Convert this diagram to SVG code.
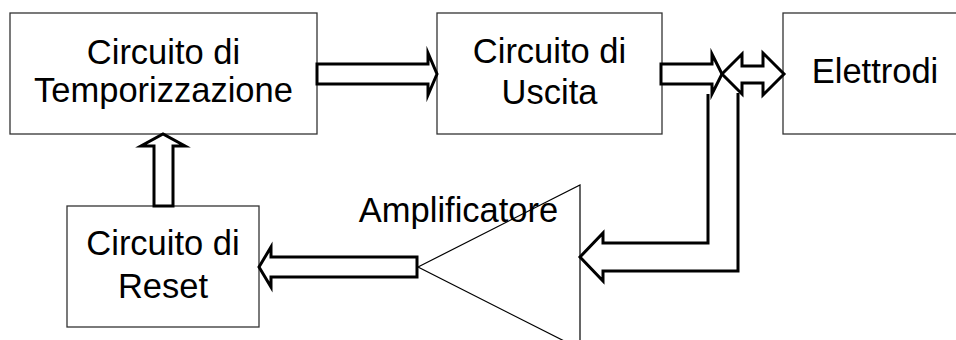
<svg xmlns="http://www.w3.org/2000/svg" width="956" height="340" viewBox="0 0 956 340">
  <style>
    .box { fill: #ffffff; stroke: #333333; stroke-width: 1.3; }
    .lbl { font-family: "Liberation Sans", Arial, sans-serif; font-size: 34.5px; fill: #000000; text-anchor: middle; }
    .arrow { fill: #ffffff; stroke: #000000; stroke-width: 3; stroke-linejoin: miter; stroke-miterlimit: 10; }
    .wire { fill: none; stroke: #000000; stroke-width: 3; stroke-linejoin: miter; stroke-miterlimit: 10; }
    .amp { fill: none; stroke: #000000; stroke-width: 1.2; }
  </style>
  <rect width="956" height="340" fill="#ffffff"/>

  <g id="timing">
    <rect class="box" x="10" y="13" width="307" height="121"/>
    <text class="lbl" x="163.5" y="64">Circuito di</text>
    <text class="lbl" x="163.5" y="102">Temporizzazione</text>
  </g>

  <g id="output">
    <rect class="box" x="437" y="13" width="225" height="121"/>
    <text class="lbl" x="549.5" y="63">Circuito di</text>
    <text class="lbl" x="549.5" y="104">Uscita</text>
  </g>

  <g id="electrodes">
    <rect class="box" x="783" y="13" width="190" height="121"/>
    <text class="lbl" x="875" y="83">Elettrodi</text>
  </g>

  <g id="reset">
    <rect class="box" x="67" y="206" width="192" height="121"/>
    <text class="lbl" x="163" y="255">Circuito di</text>
    <text class="lbl" x="163" y="298">Reset</text>
  </g>

  <g id="amplifier">
    <text class="lbl" x="458.5" y="222">Amplificatore</text>
    <polygon class="amp" points="418,267 580,185 580,349"/>
  </g>

  <g id="connectors">
    <!-- timing -> output -->
    <polygon class="arrow" points="317,64 428,64 428,53 437,74 428,95 428,84 317,84"/>
    <!-- output -> junction -->
    <polygon class="arrow" points="661,64 712,64 712,54 722,74 712,94 712,84 661,84"/>
    <!-- junction <-> electrodes -->
    <polygon class="arrow" points="722,74 742,54 742,66 763,66 763,53 784,74 763,95 763,83 742,83 742,94"/>
    <!-- junction -> amplifier input -->
    <polyline class="wire" points="708,94 708,243 603,243 603,233 580,257 603,281 603,271 738,271 738,93"/>
    <!-- amplifier -> reset -->
    <polygon class="arrow" points="417,257 271,257 271,247 259,267 271,287 271,277 417,277"/>
    <!-- reset -> timing -->
    <polygon class="arrow" points="154,206 154,146 141,146 163,134 185,146 173,146 173,206"/>
  </g>
</svg>
